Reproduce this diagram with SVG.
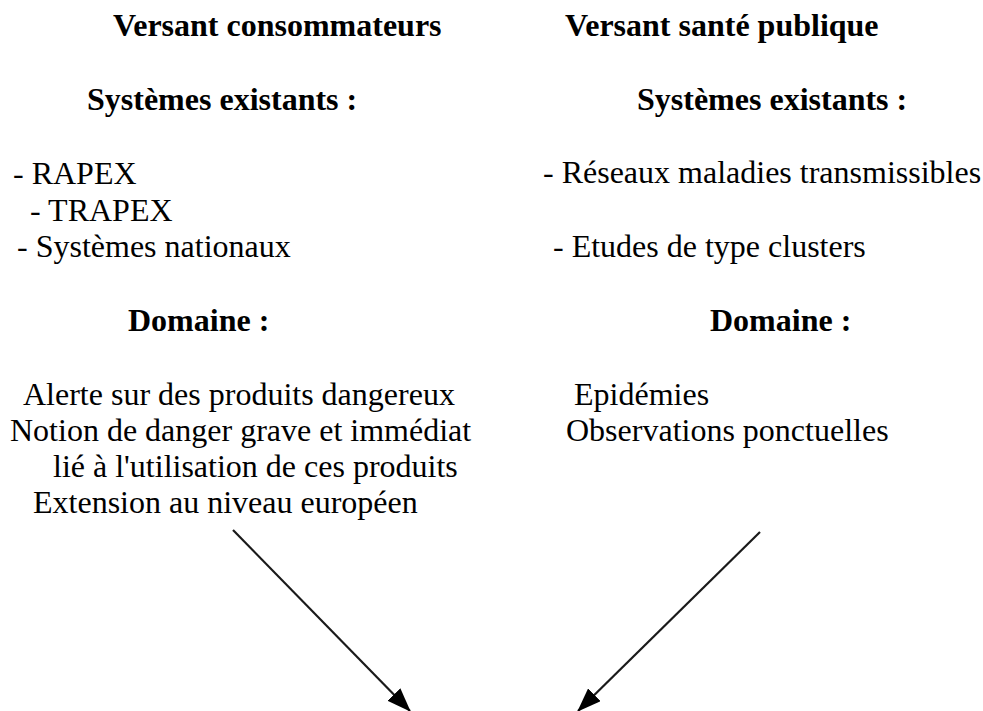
<svg xmlns="http://www.w3.org/2000/svg" width="983" height="711" viewBox="0 0 983 711">
  <style>
    text { font-family: "Liberation Serif", "Times New Roman", serif; font-size: 32px; fill: #000; }
    .b { font-weight: bold; }
    .conn { stroke: #1a1a1a; stroke-width: 2.2; fill: none; }
  </style>
  <defs>
    <marker id="arrow" markerUnits="userSpaceOnUse" markerWidth="24" markerHeight="18" viewBox="0 0 24 18" refX="23" refY="9" orient="auto">
      <path d="M0,0 L24,9 L0,18 z" fill="#000"/>
    </marker>
  </defs>
  <rect width="983" height="711" fill="#fff"/>

  <g id="consommateurs">
    <text class="b" x="113" y="36">Versant consommateurs</text>
    <text class="b" x="87" y="110">Systèmes existants :</text>
    <text x="13" y="184">- RAPEX</text>
    <text x="30" y="221">- TRAPEX</text>
    <text x="17" y="257">- Systèmes nationaux</text>
    <text class="b" x="128" y="331">Domaine :</text>
    <text x="23" y="405">Alerte sur des produits dangereux</text>
    <text x="10" y="441">Notion de danger grave et immédiat</text>
    <text x="53" y="477">lié à l'utilisation de ces produits</text>
    <text x="33" y="513">Extension au niveau européen</text>
  </g>

  <g id="sante-publique">
    <text class="b" x="565" y="36">Versant santé publique</text>
    <text class="b" x="637" y="110">Systèmes existants :</text>
    <text x="543" y="183">- Réseaux maladies transmissibles</text>
    <text x="553" y="257">- Etudes de type clusters</text>
    <text class="b" x="710" y="331">Domaine :</text>
    <text x="574" y="405">Epidémies</text>
    <text x="566" y="441">Observations ponctuelles</text>
  </g>

  <g id="connectors">
    <line class="conn" x1="233" y1="530" x2="410" y2="711" marker-end="url(#arrow)"/>
    <line class="conn" x1="760" y1="532" x2="578" y2="711" marker-end="url(#arrow)"/>
  </g>
</svg>
